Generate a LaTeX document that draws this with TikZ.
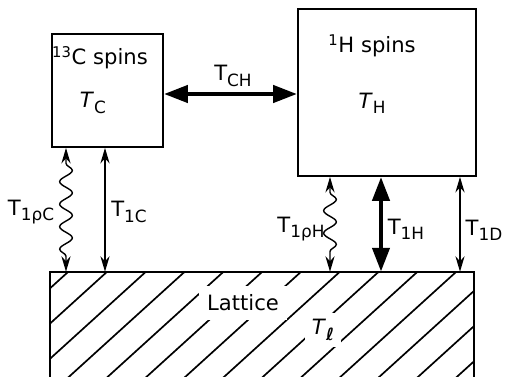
\documentclass[tikz,border=0pt]{standalone}
\usepackage{fontspec}
\setmainfont{DejaVu Sans}
\usepackage{tikz}
\usetikzlibrary{arrows.meta,positioning,calc,decorations.pathmorphing}
\newcommand{\sbs}[1]{\raisebox{-0.45ex}{\fontsize{12}{14}\selectfont #1}}
\newcommand{\Tup}[1]{T\sbs{#1}}
\newcommand{\Tit}[1]{\textit{T}\sbs{#1}}

\begin{document}
\begin{tikzpicture}[x=0.025cm,y=-0.025cm,
    font=\fontsize{15}{18}\selectfont,
    box/.style={draw, line width=1.3pt, inner sep=0pt},
    lbl/.style={inner sep=1pt},
    thinarr/.style={{Stealth[length=11pt,width=6.5pt]}-{Stealth[length=11pt,width=6.5pt]}, line width=1pt},
    thickarr/.style={{Triangle[length=17pt,width=12pt]}-{Triangle[length=17pt,width=12pt]}, line width=3.2pt},
    wavyarr/.style={thinarr, decorate,
                    decoration={snake, amplitude=4.5pt, segment length=16pt,
                                pre length=11pt, post length=11pt}},
    hatch/.style={line width=1.2pt}
]
\useasboundingbox (0,0) rectangle (507,376);

% spin reservoirs
\node[box, minimum width=2.775cm, minimum height=2.825cm] (cbox) at (107.5,90.5) {};
\node[box, minimum width=4.45cm, minimum height=4.175cm] (hbox) at (387,92.5) {};
\node[lbl] (cname) at (100,58) {\textsuperscript{13}C spins};
\node[lbl] (ctemp) at (93,103) {\Tit{C}};
\node[lbl] (hname) at (372,46) {\textsuperscript{1}H spins};
\node[lbl] (htemp) at (372,103) {\Tit{H}};

% lattice
\node[minimum width=10.6cm, minimum height=3.1cm, inner sep=0pt] (lat) at (262,334) {};
\begin{scope}
  \clip (lat.south west) rectangle (lat.north east);
  \foreach \i in {-1,...,13}
    \draw[hatch] ({68+38.8*\i},272) -- ++(-130,118);
\end{scope}
\draw[line width=1.3pt] (lat.south west) -- (lat.north west) -- (lat.north east) -- (lat.south east);
\node[lbl, fill=white, inner sep=6pt] (latname) at (243,303) {Lattice};
\node[lbl, fill=white, inner sep=5pt] (lattemp) at (323,330) {\textit{T}\sbs{\textbf{ℓ}}};

% connectors
\coordinate (ych) at (0,94);
\coordinate (xa) at (66,0);
\coordinate (xb) at (105,0);
\coordinate (xc) at (330,0);
\coordinate (xd) at (381,0);
\coordinate (xe) at (460,0);

\draw[thickarr] (cbox.east |- ych) -- (hbox.west |- ych);
\draw[wavyarr] (cbox.south -| xa) -- (lat.north -| xa);
\draw[thinarr] (cbox.south -| xb) -- (lat.north -| xb);
\draw[wavyarr] (hbox.south -| xc) -- (lat.north -| xc);
\draw[thickarr] (hbox.south -| xd) -- (lat.north -| xd);
\draw[thinarr] (hbox.south -| xe) -- (lat.north -| xe);

\node[lbl] (tch) at (233,76) {\Tup{CH}};
\node[lbl] (t1rc) at (31,212) {\Tup{1ρC}};
\node[lbl] (t1c) at (129,212) {\Tup{1C}};
\node[lbl] (t1rh) at (301,229) {\Tup{1ρH}};
\node[lbl] (t1h) at (406,229) {\Tup{1H}};
\node[lbl] (t1d) at (484,230) {\Tup{1D}};
\end{tikzpicture}
\end{document}
